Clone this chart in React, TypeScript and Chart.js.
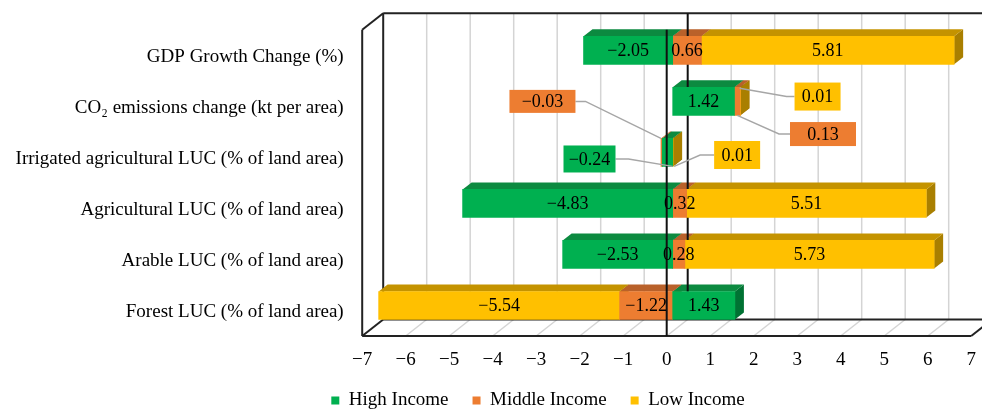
import React, { useEffect, useRef } from "react";
import { Chart, registerables } from "chart.js";

Chart.register(...registerables);

// ---------------- data ----------------
const categories = [
  "GDP Growth Change (%)",
  "CO\u2082 emissions change (kt per area)",
  "Irrigated agricultural LUC (% of land area)",
  "Agricultural LUC (% of land area)",
  "Arable LUC (% of land area)",
  "Forest LUC (% of land area)",
];
const seriesNames = ["High Income", "Middle Income", "Low Income"];
const highIncome = [-2.05, 1.42, -0.24, -4.83, -2.53, 1.43];
const middleIncome = [0.66, 0.13, -0.03, 0.32, 0.28, -1.22];
const lowIncome = [5.81, 0.01, 0.01, 5.51, 5.73, -5.54];
const xTickValues = [-7, -6, -5, -4, -3, -2, -1, 0, 1, 2, 3, 4, 5, 6, 7];
const xTickLabels = ["\u22127", "\u22126", "\u22125", "\u22124", "\u22123", "\u22122", "\u22121", "0", "1", "2", "3", "4", "5", "6", "7"];

// ---------------- styles ----------------
const FONT = '"Liberation Serif", "Times New Roman", serif';
const FS = 19;
const LABEL_FS = 18;
const frontColors = ["#00B050", "#ED7D31", "#FFC000"];
const topColors = ["#0C8A40", "#B9612A", "#C49300"];
const sideColors = ["#007233", "#A0521F", "#A97F00"];
const FRONT = { dx: -6, dy: 5 };
const WALL = { dx: 15, dy: -11.5 };
const DEPTH = { dx: 9, dy: -7 };
const LEGEND_CENTER = 538;

type Anchor = "leftTop" | "baseBottom" | "endBottom" | "endTop" | "midBottom";
const callouts: Record<string, { anchor: Anchor; ox: number; oy: number; w: number; h: number; elbow: number }> = {
  "1-2": { anchor: "leftTop", ox: -118.5, oy: -37, w: 66, h: 23, elbow: 10 },
  "0-2": { anchor: "baseBottom", ox: -83.2, oy: -7.4, w: 52, h: 27, elbow: 13 },
  "2-2": { anchor: "endBottom", ox: 63, oy: -11.4, w: 46, h: 28, elbow: 14 },
  "2-1": { anchor: "endTop", ox: 78, oy: 8.2, w: 46, h: 28, elbow: 8 },
  "1-1": { anchor: "midBottom", ox: 85.7, oy: 18.7, w: 66, h: 24, elbow: 11 },
};

const fmt = (v: number) => (v < 0 ? "\u2212" : "") + Math.abs(v).toFixed(2);

function barGeom(el: any) {
  const p = el.getProps(["x", "y", "base", "height"], true);
  const left = Math.min(p.x, p.base);
  const right = Math.max(p.x, p.base);
  return { ...p, left, right, t: p.y - p.height / 2, b: p.y + p.height / 2 };
}

function poly(ctx: CanvasRenderingContext2D, pts: number[][], fill: string) {
  ctx.beginPath();
  ctx.moveTo(pts[0][0], pts[0][1]);
  for (let i = 1; i < pts.length; i++) ctx.lineTo(pts[i][0], pts[i][1]);
  ctx.closePath();
  ctx.fillStyle = fill;
  ctx.fill();
}

function line(ctx: CanvasRenderingContext2D, x1: number, y1: number, x2: number, y2: number) {
  ctx.beginPath();
  ctx.moveTo(x1, y1);
  ctx.lineTo(x2, y2);
  ctx.stroke();
}

const threeD = {
  id: "threeD",
  afterLayout(chart: any) {
    const lg = chart.legend;
    if (lg) {
      const w = lg.right - lg.left;
      lg.left = LEGEND_CENTER - w / 2;
      lg.right = LEGEND_CENTER + w / 2;
    }
  },
  beforeDatasetsDraw(chart: any) {
    const { ctx, chartArea: a } = chart;
    const xs = chart.scales.x;
    const wallTop = a.top + WALL.dy;
    const wallBot = a.bottom + WALL.dy;
    const frontTop = a.top + FRONT.dy;
    const frontBot = a.bottom + FRONT.dy;
    ctx.save();
    // back wall gridlines and floor lines
    ctx.strokeStyle = "#d4d4d4";
    ctx.lineWidth = 1.5;
    xTickValues.forEach((v) => {
      const px = xs.getPixelForValue(v);
      if (v !== -7 && v !== 0) line(ctx, px + WALL.dx, wallTop, px + WALL.dx, wallBot);
      if (v !== -7 && v !== 7) line(ctx, px + FRONT.dx, frontBot, px + WALL.dx, wallBot);
    });
    // frame
    ctx.strokeStyle = "#222";
    ctx.lineWidth = 2;
    const l = xs.getPixelForValue(-7);
    const r = xs.getPixelForValue(7);
    line(ctx, l + WALL.dx, wallTop, chart.width + 20, wallTop);
    line(ctx, l + WALL.dx, wallTop, l + WALL.dx, wallBot);
    line(ctx, l + WALL.dx, wallBot, chart.width + 20, wallBot);
    line(ctx, l + FRONT.dx, frontTop, l + FRONT.dx, frontBot);
    line(ctx, l + FRONT.dx, frontBot, r + FRONT.dx, frontBot);
    line(ctx, l + FRONT.dx, frontTop, l + WALL.dx, wallTop);
    line(ctx, l + FRONT.dx, frontBot, l + WALL.dx, wallBot);
    line(ctx, r + FRONT.dx, frontBot, r + WALL.dx, wallBot);

    // 3D faces of bars: sides first, then tops
    const metas = chart.data.datasets.map((_: any, i: number) => chart.getDatasetMeta(i));
    metas.forEach((m: any, di: number) => {
      m.data.forEach((el: any) => {
        const g = barGeom(el);
        poly(ctx, [[g.right, g.t], [g.right + DEPTH.dx, g.t + DEPTH.dy], [g.right + DEPTH.dx, g.b + DEPTH.dy], [g.right, g.b]], sideColors[di]);
      });
    });
    metas.forEach((m: any, di: number) => {
      m.data.forEach((el: any) => {
        const g = barGeom(el);
        poly(ctx, [[g.left, g.t], [g.right, g.t], [g.right + DEPTH.dx, g.t + DEPTH.dy], [g.left + DEPTH.dx, g.t + DEPTH.dy]], topColors[di]);
      });
    });
    // back zero line (front faces of bars are drawn over it afterwards)
    ctx.strokeStyle = "#111";
    ctx.lineWidth = 2;
    const z = xs.getPixelForValue(0);
    line(ctx, z + WALL.dx, wallTop, z + WALL.dx, wallBot);
    ctx.restore();
  },
  afterDatasetsDraw(chart: any) {
    const { ctx, chartArea: a } = chart;
    const xs = chart.scales.x;
    ctx.save();
    // front zero line
    const z = xs.getPixelForValue(0) + FRONT.dx;
    ctx.strokeStyle = "#111";
    ctx.lineWidth = 2;
    line(ctx, z, a.top + FRONT.dy, z, a.bottom + FRONT.dy);

    ctx.font = `${LABEL_FS}px ${FONT}`;
    ctx.textAlign = "center";
    ctx.textBaseline = "middle";
    chart.data.datasets.forEach((ds: any, di: number) => {
      const m = chart.getDatasetMeta(di);
      m.data.forEach((el: any, i: number) => {
        const g = barGeom(el);
        const txt = fmt(ds.data[i]);
        const c = callouts[`${di}-${i}`];
        if (!c) {
          ctx.fillStyle = "#000";
          ctx.fillText(txt, (g.left + g.right) / 2, g.y + 1);
          return;
        }
        let ax = 0, ay = 0;
        if (c.anchor === "leftTop") { ax = g.left; ay = g.t; }
        else if (c.anchor === "baseBottom") { ax = g.base; ay = g.b; }
        else if (c.anchor === "endBottom") { ax = g.x + 1; ay = g.b; }
        else if (c.anchor === "endTop") { ax = g.x - 1; ay = g.t + 1; }
        else { ax = (g.x + g.base) / 2; ay = g.b; }
        const cx = ax + c.ox;
        const cy = ay + c.oy;
        // leader line
        ctx.strokeStyle = "#a6a6a6";
        ctx.lineWidth = 1.5;
        ctx.beginPath();
        if (cx < ax) {
          ctx.moveTo(cx + c.w / 2, cy);
          ctx.lineTo(cx + c.w / 2 + c.elbow, cy);
        } else {
          ctx.moveTo(cx - c.w / 2, cy);
          ctx.lineTo(cx - c.w / 2 - c.elbow, cy);
        }
        ctx.lineTo(ax, ay);
        ctx.stroke();
        ctx.fillStyle = frontColors[di];
        ctx.fillRect(cx - c.w / 2, cy - c.h / 2, c.w, c.h);
        ctx.fillStyle = "#000";
        ctx.fillText(txt, cx, cy + 1);
      });
    });
    ctx.restore();
  },
};

export default function App() {
  const ref = useRef<HTMLCanvasElement>(null);
  useEffect(() => {
    const canvas = ref.current;
    if (!canvas) return;
    Chart.defaults.font.family = FONT;
    Chart.defaults.font.size = FS;
    Chart.defaults.color = "#000";
    const series = [highIncome, middleIncome, lowIncome];
    const chart = new Chart(canvas, {
      type: "bar",
      data: {
        labels: categories,
        datasets: series.map((d, i) => ({
          label: seriesNames[i],
          data: d,
          backgroundColor: frontColors[i],
          borderWidth: 0,
          barThickness: 28,
        })),
      },
      options: {
        indexAxis: "y",
        responsive: false,
        animation: false,
        layout: { padding: { left: 0, right: 4.8, top: 24.8, bottom: 0 }, autoPadding: false },
        scales: {
          x: {
            type: "linear",
            min: -7,
            max: 7,
            stacked: true,
            grid: { display: false, drawTicks: false },
            border: { display: false },
            ticks: {
              stepSize: 1,
              autoSkip: false,
              padding: 18,
              labelOffset: -6,
              color: "#000",
              font: { size: FS, family: FONT },
              callback: (v: any) => {
                const idx = xTickValues.indexOf(Number(v));
                return idx >= 0 ? xTickLabels[idx] : "";
              },
            },
            afterFit: (s: any) => {
              s.height = 36;
              s.paddingLeft = 0;
              s.paddingRight = 0;
              s.paddingTop = 0;
              s.paddingBottom = 0;
            },
          },
          y: {
            stacked: true,
            grid: { display: false, drawTicks: false },
            border: { display: false },
            ticks: { padding: 24.5, labelOffset: 6.5, autoSkip: false, color: "#000", font: { size: FS, family: FONT } },
            afterFit: (s: any) => {
              s.width = 368.2;
              s.paddingLeft = 0;
              s.paddingRight = 0;
              s.paddingTop = 0;
              s.paddingBottom = 0;
            },
          },
        },
        plugins: {
          legend: {
            position: "bottom",
            maxHeight: 42,
            labels: { boxWidth: 8, boxHeight: 8, padding: 24, color: "#000", font: { size: FS, family: FONT } },
          },
          tooltip: { enabled: false },
        },
      } as any,
      plugins: [threeD],
    });
    return () => chart.destroy();
  }, []);
  return (
    <div style={{ position: "absolute", left: 0, top: 0, width: 982, height: 409, background: "#fff" }}>
      <canvas ref={ref} width={982} height={409} style={{ display: "block" }} />
    </div>
  );
}
